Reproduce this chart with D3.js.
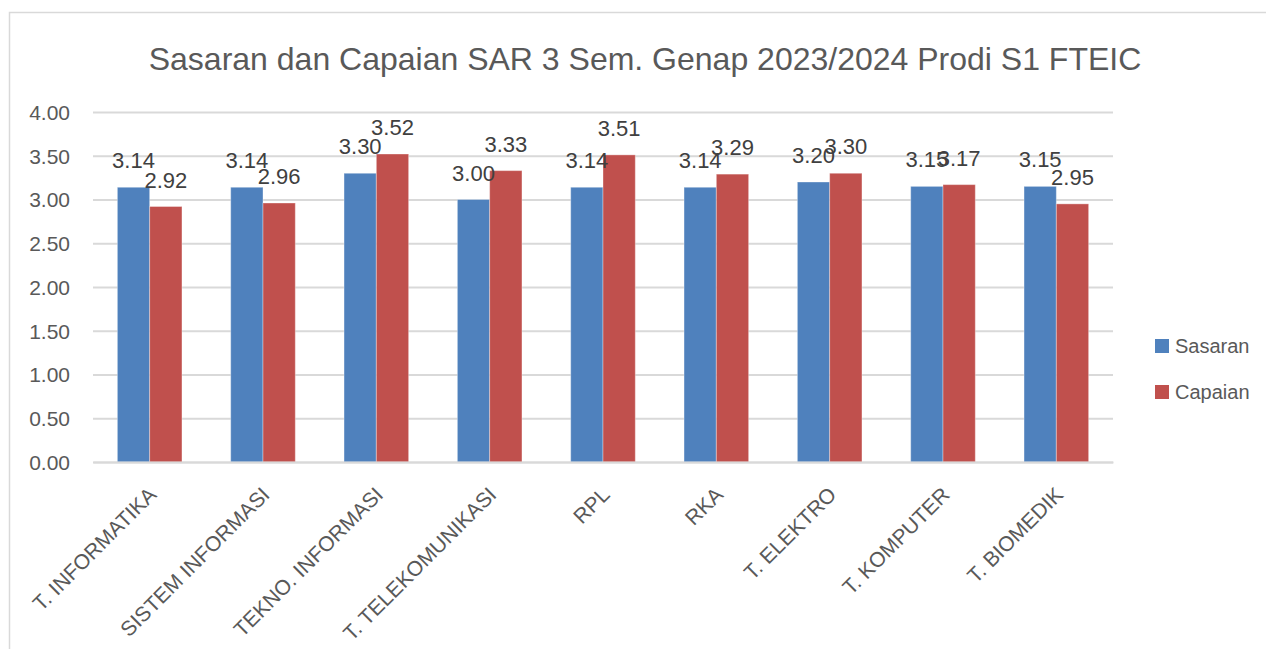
<!DOCTYPE html>
<html>
<head>
<meta charset="utf-8">
<script src="https://cdn.jsdelivr.net/npm/d3@7"></script>
<style>
    html, body { margin: 0; padding: 0; background: #fff; }
    #chart { width: 1266px; height: 649px; }
    text { font-family: "Liberation Sans", Arial, sans-serif; }
</style>
</head>
<body>
<div id="chart"></div>
<script>
//Datos
const prodi = ['T. INFORMATIKA', 'SISTEM INFORMASI', 'TEKNO. INFORMASI', 'T. TELEKOMUNIKASI', 'RPL', 'RKA', 'T. ELEKTRO', 'T. KOMPUTER', 'T. BIOMEDIK'];
const sasaran = [3.14, 3.14, 3.30, 3.00, 3.14, 3.14, 3.20, 3.15, 3.15];
const capaian = [2.92, 2.96, 3.52, 3.33, 3.51, 3.29, 3.30, 3.17, 2.95];
const series = ['Sasaran', 'Capaian'];
const yTicks = [0, 0.5, 1, 1.5, 2, 2.5, 3, 3.5, 4];
const title = 'Sasaran dan Capaian SAR 3 Sem. Genap 2023/2024 Prodi S1 FTEIC';

//Colores fijos
const COLOR_SASARAN = '#4F81BD',
COLOR_CAPAIAN = '#C0504D',
COLOR_GRID = '#D9D9D9',
COLOR_TEXT = '#595959';

let data = prodi.map(function(p, i) { return {prodi: p, Sasaran: sasaran[i], Capaian: capaian[i]}; });

let W = 1266, H = 649;
let margin = {top: 112, right: 153, bottom: 187, left: 93},
    width = W - margin.left - margin.right,
    height = H - margin.top - margin.bottom;

let root = d3.select('#chart').append('svg')
    .attr('width', W)
    .attr('height', H);

//Marco
root.append('rect')
    .attr('x', 9.5).attr('y', 12.5)
    .attr('width', W).attr('height', H)
    .attr('fill', 'none')
    .attr('stroke', COLOR_GRID)
    .attr('stroke-width', 1.5);

//Título
root.append('text')
    .attr('x', 645).attr('y', 70)
    .attr('text-anchor', 'middle')
    .attr('fill', COLOR_TEXT)
    .style('font-size', '32px')
    .text(title);

let svg = root.append('g')
    .attr('transform', 'translate(' + margin.left + ',' + margin.top + ')');

let y = d3.scaleLinear().domain([0, 4]).range([height, 0]);
let x = d3.scaleBand().domain(prodi).range([0, width]).paddingInner(0.43).paddingOuter(0.215);
let xSub = d3.scaleBand().domain(series).range([0, x.bandwidth()]);
let color = d3.scaleOrdinal().domain(series).range([COLOR_SASARAN, COLOR_CAPAIAN]);

//Eje Y
let yAxis = function(g) {
    g.call(d3.axisLeft(y).tickValues(yTicks).tickFormat(d3.format('.2f')).tickSize(-width).tickPadding(23));
    g.call(function(g) { g.select('.domain').remove(); });
    g.call(function(g) {
        g.selectAll('.tick line').attr('stroke', COLOR_GRID).attr('stroke-width', 2);
        g.selectAll('.tick text').attr('fill', COLOR_TEXT).style('font-size', '21px').attr('dy', '0.35em');
    });
};
svg.append('g').call(yAxis);

//Barras
let groups = svg.append('g')
    .selectAll('g')
    .data(data)
    .enter()
    .append('g')
    .attr('transform', function(d) { return 'translate(' + x(d.prodi) + ',0)'; });

let cells = groups.selectAll('g')
    .data(function(d) { return series.map(function(key) { return {key: key, value: d[key]}; }); })
    .enter();

cells.append('rect')
    .attr('x', function(d) { return xSub(d.key); })
    .attr('width', xSub.bandwidth())
    .attr('y', function(d) { return y(d.value); })
    .attr('height', function(d) { return y(0) - y(d.value); })
    .attr('fill', function(d) { return color(d.key); })
    .attr('stroke', '#fff')
    .attr('stroke-opacity', 0.35)
    .attr('stroke-width', 1);

cells.append('text')
    .attr('x', function(d) { return xSub(d.key) + xSub.bandwidth() / 2; })
    .attr('y', function(d) { return y(d.value) - 19; })
    .attr('text-anchor', 'middle')
    .attr('fill', '#404040')
    .style('font-size', '22px')
    .text(function(d) { return d3.format('.2f')(d.value); });

//Eje X
let xAxis = function(g) {
    g.call(d3.axisBottom(x).tickSize(0));
    g.call(function(g) { g.select('.domain').attr('stroke', COLOR_GRID).attr('stroke-width', 2); });
    g.call(function(g) {
        g.selectAll('.tick text')
            .attr('fill', COLOR_TEXT)
            .style('font-size', '21px')
            .attr('text-anchor', 'end')
            .attr('transform', 'translate(8,34) rotate(-45)')
            .attr('dy', 0).attr('y', 0);
    });
};
svg.append('g')
    .attr('transform', 'translate(0,' + height + ')')
    .call(xAxis);

//Leyenda
let legend = root.append('g')
    .selectAll('g')
    .data(series)
    .enter()
    .append('g')
    .attr('transform', function(d, i) { return 'translate(1155,' + (339 + i * 46) + ')'; });

legend.append('rect')
    .attr('width', 14).attr('height', 14)
    .attr('fill', function(d) { return color(d); });

legend.append('text')
    .attr('x', 20).attr('y', 14)
    .attr('fill', COLOR_TEXT)
    .style('font-size', '20px')
    .text(function(d) { return d; });
</script>
</body>
</html>
